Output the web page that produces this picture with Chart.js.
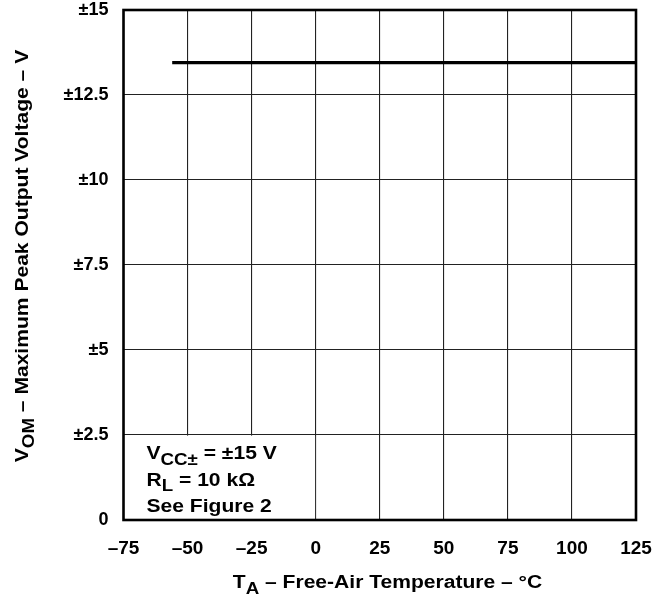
<!DOCTYPE html>
<html><head><meta charset="utf-8">
<script src="https://cdn.jsdelivr.net/npm/chart.js@4"></script>
<style>html,body{margin:0;padding:0;background:#fff;}#wrap{width:658px;height:597px;}</style>
</head><body><div id="wrap"><canvas id="c"></canvas></div>
<script>
const xTicks = [-75, -50, -25, 0, 25, 50, 75, 100, 125];
const yTicks = [0, 2.5, 5, 7.5, 10, 12.5, 15];
const yTickLabels = ['0', '±2.5', '±5', '±7.5', '±10', '±12.5', '±15'];
const temps = [-56, 125];
const vom = [13.45, 13.45];
const noteLines = [
  [{t:'V'},{t:'CC±',sub:true},{t:' = ±15 V'}],
  [{t:'R'},{t:'L',sub:true},{t:' = 10 kΩ'}],
  [{t:'See Figure 2'}]
];
const xTitle = [{t:'T'},{t:'A',sub:true},{t:' – Free-Air Temperature – °C'}];
const yTitle = [{t:'V'},{t:'OM',sub:true},{t:' – Maximum Peak Output Voltage – V'}];

const FONT = '"Liberation Sans", Arial, sans-serif';
const SX = 1.17;
function partsWidth(ctx, parts, size){
  let w=0; for(const p of parts){ctx.font='bold '+(p.sub?Math.round(size*0.88):size)+'px '+FONT; w+=ctx.measureText(p.t).width;} return w*SX;
}
function drawParts(ctx, parts, x, y, size){
  ctx.save();
  ctx.translate(x,y); ctx.scale(SX,1);
  let cx=0;
  for(const p of parts){
    const s = p.sub?Math.round(size*0.88):size;
    ctx.font='bold '+s+'px '+FONT;
    ctx.fillText(p.t, cx, (p.sub? size*0.32:0));
    cx += ctx.measureText(p.t).width;
  }
  ctx.restore();
}
const deco = {
  id:'deco',
  beforeDatasetsDraw(chart){
    const {ctx, chartArea:a, scales:{x,y}} = chart;
    ctx.save();
    ctx.fillStyle='#fff';
    const x0=a.left+1, x1=x.getPixelForValue(0)-0.6, y0=y.getPixelForValue(2.5)+0.6, y1=a.bottom-1;
    ctx.fillRect(x0,y0,x1-x0,y1-y0);
    ctx.restore();
  },
  afterDraw(chart){
    const {ctx, chartArea:a} = chart;
    ctx.save();
    ctx.strokeStyle='#000'; ctx.lineWidth=2.6;
    ctx.strokeRect(a.left,a.top,a.right-a.left,a.bottom-a.top);
    ctx.fillStyle='#000'; ctx.textBaseline='alphabetic'; ctx.textAlign='left';
    const size=18;
    noteLines.forEach((ln,i)=>drawParts(ctx, ln, 146.5, 459.3+i*26.2, size));
    const tw = partsWidth(ctx, xTitle, size);
    drawParts(ctx, xTitle, 387.5 - tw/2, 588, size);
    ctx.translate(28, 256);
    ctx.rotate(-Math.PI/2);
    const yw = partsWidth(ctx, yTitle, size);
    drawParts(ctx, yTitle, -yw/2, 0, size);
    ctx.restore();
  }
};
new Chart(document.getElementById('c'), {
  type:'scatter',
  data:{datasets:[{data:temps.map((t,i)=>({x:t,y:vom[i]})), showLine:true, borderColor:'#000', borderWidth:3.2, pointRadius:0, fill:false}]},
  options:{
    responsive:true, maintainAspectRatio:false, animation:false,
    layout:{padding:{top:10,right:22,left:0,bottom:0}},
    plugins:{legend:{display:false},tooltip:{enabled:false}},
    scales:{
      x:{type:'linear', min:-75, max:125,
        afterBuildTicks(s){s.ticks=xTicks.map(v=>({value:v}));},
        afterFit(s){s.height=77; s.paddingLeft=0; s.paddingRight=0;},
        grid:{color:'#222', lineWidth:1.1, drawTicks:false},
        border:{display:false},
        ticks:{padding:17, color:'#000', font:{family:FONT, size:19, weight:'bold'},
          callback:v=>v<0?'–'+Math.abs(v):String(v)}},
      y:{type:'linear', min:0, max:15,
        afterBuildTicks(s){s.ticks=yTicks.map(v=>({value:v}));},
        afterFit(s){s.width=123.5; s.paddingTop=0; s.paddingBottom=0;},
        grid:{color:'#222', lineWidth:1.1, drawTicks:false},
        border:{display:false},
        ticks:{padding:15, color:'#000', font:{family:FONT, size:18, weight:'bold'},
          callback:v=>yTickLabels[yTicks.indexOf(v)]}}
    }
  },
  plugins:[deco]
});
</script></body></html>
